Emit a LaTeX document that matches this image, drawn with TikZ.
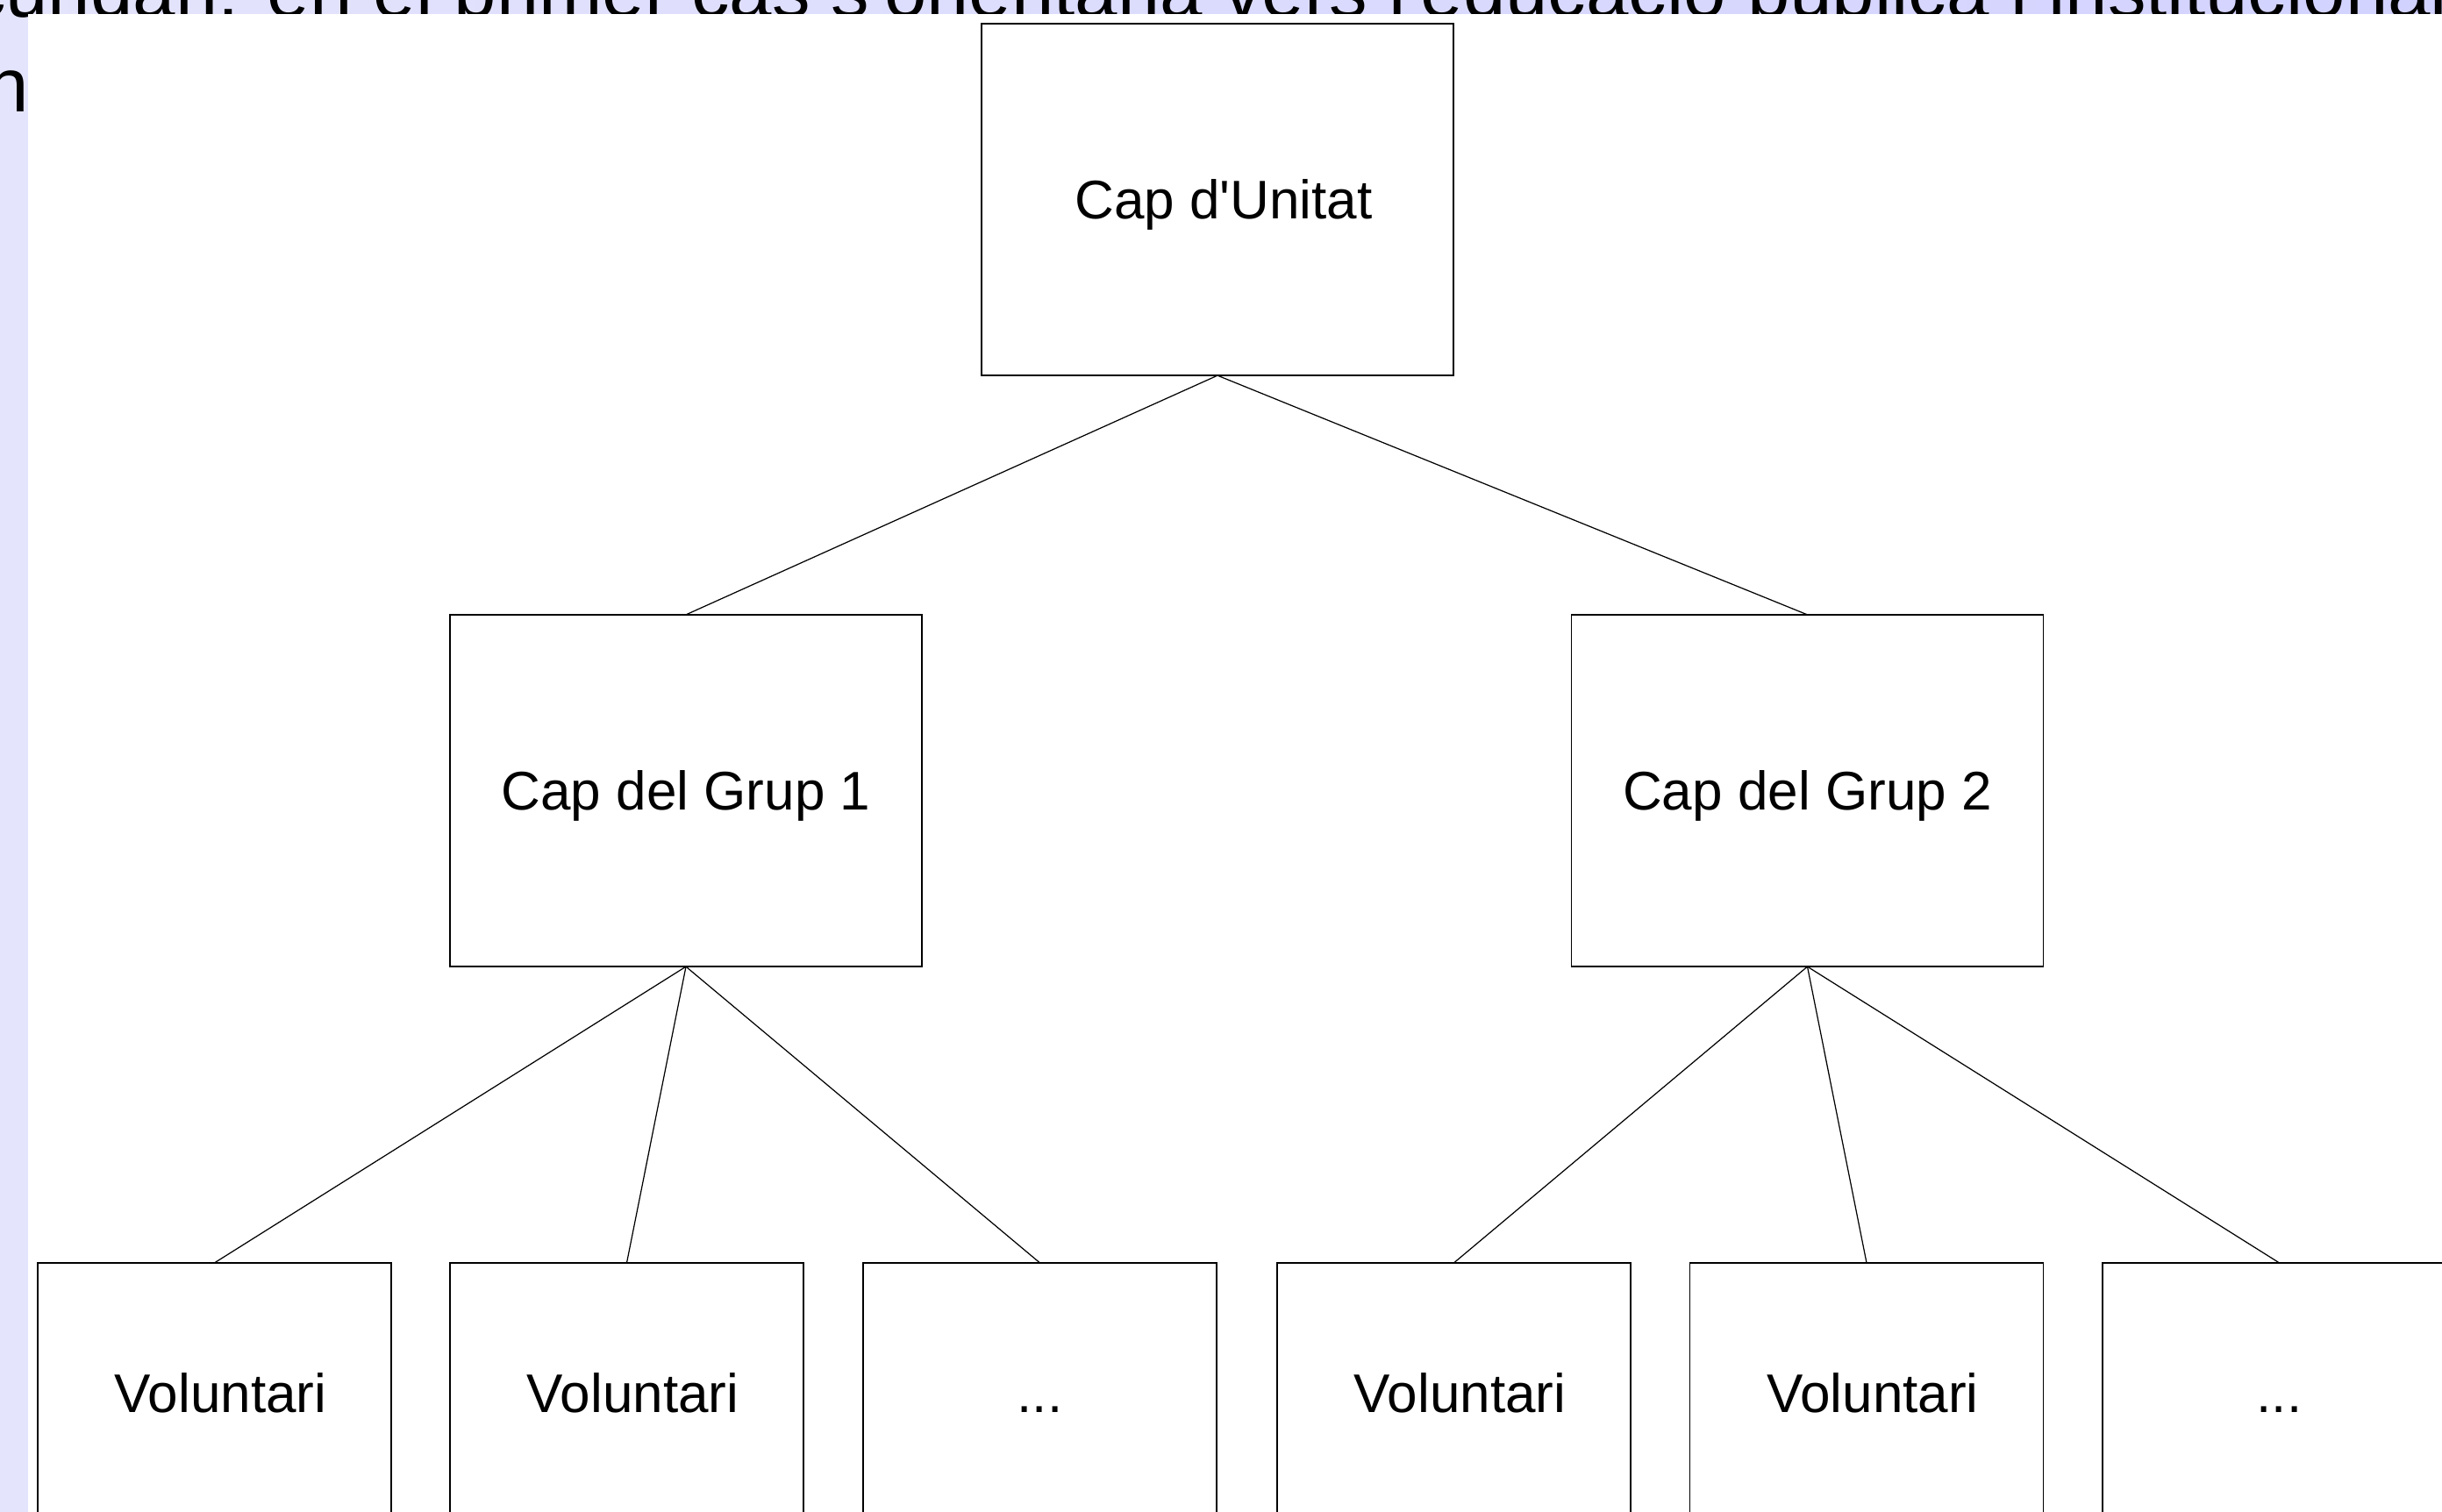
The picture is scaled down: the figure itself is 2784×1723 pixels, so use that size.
\documentclass[tikz,border=0pt]{standalone}
\usepackage{fontspec}
\newfontfamily\arialf{Liberation Sans}
\definecolor{bandL}{RGB}{228,228,252}
\definecolor{bandR}{RGB}{210,210,255}
\begin{document}
\begin{tikzpicture}[x=0.01cm,y=-0.01cm,
  box/.style={draw=black,line width=0.45pt,fill=white,inner sep=0pt,outer sep=0pt,
    font=\arialf\fontsize{17.64pt}{20pt}\selectfont,text height=0.44cm,text depth=0pt},
  bigbox/.style={box,minimum width=5.38cm,minimum height=4.01cm},
  leafbox/.style={box,minimum width=4.03cm,minimum height=2.96cm},
  link/.style={draw=black,line width=0.35pt},
  bgtext/.style={anchor=base west,inner sep=0pt,outer sep=0pt,
    font=\arialf\fontsize{24.75pt}{28pt}\selectfont}]
\useasboundingbox (0,0) rectangle (2784,1723);
\begin{scope}
\clip (0,0) rectangle (2784,1723);
\shade[left color=bandL,right color=bandR] (0,0) rectangle (2784,1723);
\node[bgtext] (line1) at (-37,19) {cundari: en el primer cas s'orientaria vers l'educació pública i institucional};
\node[bgtext] (line2) at (-15,127) {n};
\fill[white] (32,16) rectangle (2800,1740);
% nodes
\node[bigbox] (U) at (1388,227.5) {\hspace{0.14cm}Cap d'Unitat};
\node[bigbox] (G1) at (782,901.5) {Cap del Grup 1};
\node[bigbox] (G2) at (2060.5,901.5) {Cap del Grup 2};
\node[leafbox] (V1) at (244.5,1588) {\hspace{0.14cm}Voluntari};
\node[leafbox] (V2) at (714.5,1588) {\hspace{0.14cm}Voluntari};
\node[leafbox] (D1) at (1185.5,1588) {...};
\node[leafbox] (V3) at (1657.5,1588) {\hspace{0.14cm}Voluntari};
\node[leafbox] (V4) at (2128,1588) {\hspace{0.14cm}Voluntari};
\node[leafbox] (D2) at (2598.5,1588) {...};
% connectors
\draw[link] (U.south) -- (G1.north);
\draw[link] (U.south) -- (G2.north);
\draw[link] (G1.south) -- (V1.north);
\draw[link] (G1.south) -- (V2.north);
\draw[link] (G1.south) -- (D1.north);
\draw[link] (G2.south) -- (V3.north);
\draw[link] (G2.south) -- (V4.north);
\draw[link] (G2.south) -- (D2.north);
\end{scope}
\end{tikzpicture}
\end{document}
